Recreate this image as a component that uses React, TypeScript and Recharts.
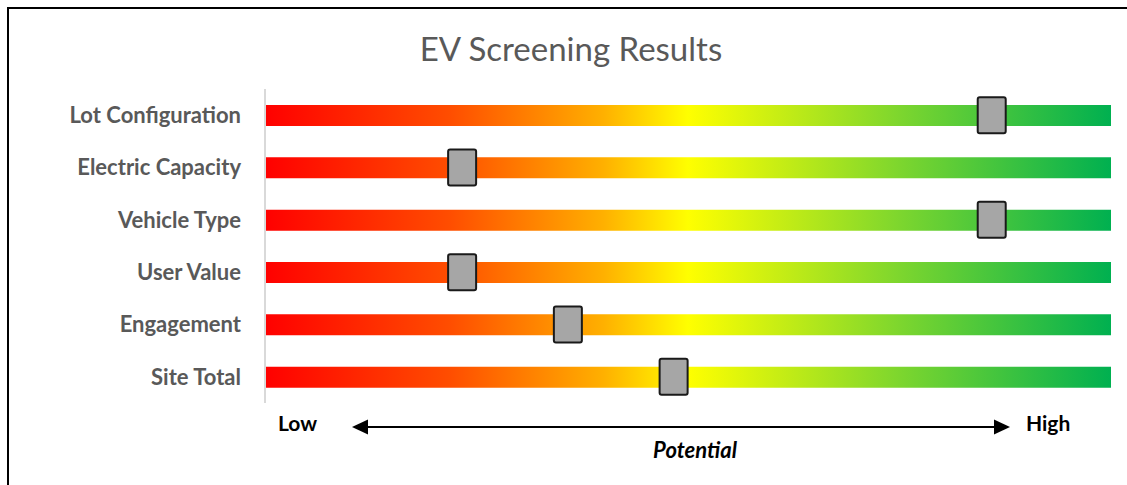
import { ComposedChart, Bar, Scatter, XAxis, YAxis } from 'recharts';

// Screening categories, top to bottom
const categories = [
  'Lot Configuration',
  'Electric Capacity',
  'Vehicle Type',
  'User Value',
  'Engagement',
  'Site Total',
];

// Marker position on the Low (0) .. High (100) scale
const scores = [85.9, 23.3, 85.9, 23.3, 35.8, 48.3];

// Each track spans the whole scale
const trackMax = 100;

const data = categories.map((name, i) => ({ name, track: trackMax, score: scores[i] }));

const FONT = 'Lato, "Open Sans", sans-serif';

// Gray marker block centered on the score
const Marker = (props: any) => {
  const { cx, cy } = props;
  if (cx == null || cy == null) return null;
  return (
    <rect x={cx - 14} y={cy - 18} width={28} height={36} rx={2} fill="#A6A6A6" stroke="#1A1A1A" strokeWidth={2} />
  );
};

export default function App() {
  return (
    <div style={{ position: 'fixed', left: 0, top: 0, width: 1127, height: 485, overflow: 'hidden', background: '#fff' }}>
      <svg width={1127} height={485} style={{ position: 'absolute', left: 0, top: 0 }}>
        {/* frame: only the top and left edges fall inside the picture */}
        <path d="M8,485 L8,8 L1127,8" fill="none" stroke="#000" strokeWidth={2} />
      </svg>
      <div
        style={{
          position: 'absolute', left: 0, top: 28, width: 1127, paddingLeft: 15, boxSizing: 'border-box', textAlign: 'center',
          fontFamily: FONT, fontSize: 33, color: '#595959', lineHeight: '40px',
        }}
      >
        EV Screening Results
      </div>

      <div style={{ position: 'absolute', left: 0, top: 0 }}>
        <ComposedChart
          width={1127}
          height={485}
          data={data}
          layout="vertical"
          margin={{ top: 89, right: 16, bottom: 82, left: 0 }}
          barCategoryGap={0}
        >
          <defs>
            <linearGradient id="evGrad" x1="0" y1="0" x2="1" y2="0">
              <stop offset="0%" stopColor="#FF0000" />
              <stop offset="22%" stopColor="#FF4E00" />
              <stop offset="40%" stopColor="#FFB000" />
              <stop offset="50%" stopColor="#FFFF00" />
              <stop offset="75%" stopColor="#7DD62E" />
              <stop offset="100%" stopColor="#00B050" />
            </linearGradient>
          </defs>
          <XAxis type="number" domain={[0, trackMax]} hide />
          <YAxis
            type="category"
            dataKey="name"
            width={265}
            tickLine={false}
            tickSize={0}
            tickMargin={24}
            axisLine={{ stroke: '#D9D9D9', strokeWidth: 2 }}
            tick={{ fill: '#595959', fontSize: 22, fontWeight: 700, fontFamily: FONT }}
            interval={0}
          />
          <Bar dataKey="track" barSize={21} fill="url(#evGrad)" isAnimationActive={false} />
          <Scatter dataKey="score" shape={<Marker />} isAnimationActive={false} />
        </ComposedChart>
      </div>

      <svg width={1127} height={485} style={{ position: 'absolute', left: 0, top: 0, pointerEvents: 'none' }}>
        <text x={278} y={431} fontFamily={FONT} fontSize={21} fontWeight={700} fill="#000">Low</text>
        <text x={1026} y={431} fontFamily={FONT} fontSize={21} fontWeight={700} fill="#000">High</text>
        <line x1={366} y1={427} x2={996} y2={427} stroke="#000" strokeWidth={2} />
        <polygon points="352,427 368,419.5 368,434.5" fill="#000" />
        <polygon points="1010,427 994,419.5 994,434.5" fill="#000" />
        <text x={695} y={458} textAnchor="middle" fontFamily={FONT} fontSize={22} fontWeight={700} fontStyle="italic" fill="#000">Potential</text>
      </svg>
    </div>
  );
}
